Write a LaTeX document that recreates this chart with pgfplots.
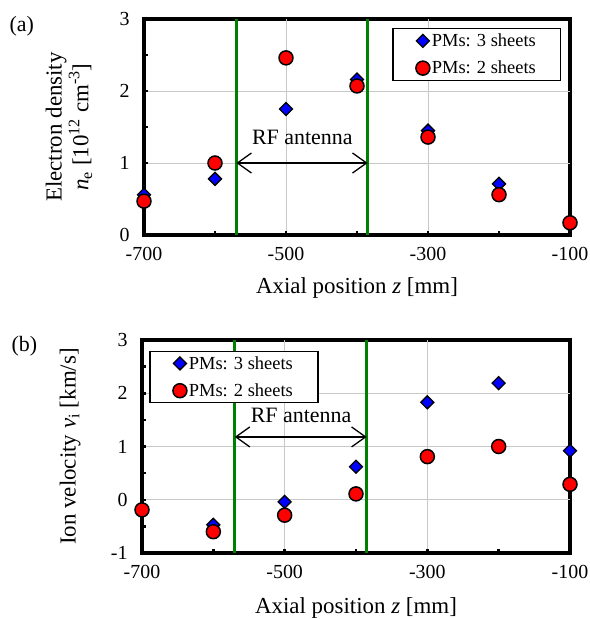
\documentclass[border=0pt]{standalone}
\usepackage{fontspec}
\setmainfont{Liberation Serif}
\usepackage{pgfplots}
\pgfplotsset{compat=1.18}
\usetikzlibrary{arrows.meta}
\definecolor{pgreen}{RGB}{0,128,0}
\definecolor{pblue}{RGB}{0,0,255}
\definecolor{pred}{RGB}{255,0,0}
\definecolor{pgrid}{RGB}{200,200,200}
\pgfplotsset{
  panel/.style={
    scale only axis, clip=false,
    xmin=-700, xmax=-100,
    xtick={-700,-500,-300,-100},
    xticklabels={-700,-500,-300,-100},
    minor xtick={-600,-400,-200},
    extra x ticks={-500,-300},
    extra x tick labels={},
    extra x tick style={grid=major, major tick length=4bp},
    tick align=inside,
    xtick pos=bottom, ytick pos=left,
    major tick length=4bp,
    minor tick length=4bp,
    every tick/.style={line width=2.5bp, black},
    minor tick style={line width=2.5bp, black},
    major grid style={pgrid, line width=1bp},
    axis background/.style={draw=black, line width=3.2bp},
    axis line style={line width=3bp},
    tick label style={font=\fontsize{20}{24}\selectfont},
    xticklabel style={yshift=-9bp},
    yticklabel style={xshift=-11bp},
    label style={font=\fontsize{23}{27}\selectfont},
    legend style={draw=black, line width=1.3bp, font=\fontsize{18.5}{22}\selectfont,
      inner xsep=23bp, inner ysep=3bp, row sep=9bp, column sep=0bp, cells={anchor=west},
      nodes={inner xsep=2bp}},
  },
  limg/.style={legend image code/.code={\draw plot coordinates {(0bp,0bp)};}},
  m3/.style={only marks, mark=square*, mark size=4.6bp,
    mark options={rotate=45, fill=pblue, draw=black, line width=1.3bp}, limg},
  m2/.style={only marks, mark=*, mark size=7bp,
    mark options={fill=pred, draw=black, line width=1.5bp}, limg},
  gl/.style={pgreen, line width=2.6bp, forget plot},
  ar/.style={black, line width=1.3bp, forget plot,
    {Straight Barb[length=14bp,width=20bp]}-{Straight Barb[length=14bp,width=20bp]}},
}
\begin{document}
\begin{tikzpicture}
\path[use as bounding box] (0,0) rectangle (590bp,-619bp);
\node[anchor=west, font=\fontsize{22}{26}\selectfont] at (6bp,-26bp) {(a)};
\node[anchor=west, font=\fontsize{22}{26}\selectfont] at (8bp,-346bp) {(b)};
\begin{axis}[panel,
  at={(144bp,-19bp)}, anchor=north west,
  width=426bp, height=216bp,
  ymin=0, ymax=3,
  ytick={0,1,2,3}, yticklabels={0,1,2,3},
  minor ytick={0.5,1.5,2.5},
  extra y ticks={1,2}, extra y tick labels={},
  extra y tick style={grid=major, major tick length=4bp},
  xlabel={Axial position \textit{z} [mm]},
  xlabel style={at={(axis description cs:0.5,-0.245)}, anchor=center},
  ylabel={Electron density\\\textit{n}\textsubscript{e} [10\textsuperscript{12} cm\textsuperscript{-3}]},
  ylabel style={at={(axis description cs:-0.176,0.5)}, anchor=center, align=center},
  legend style={at={(0.98,0.958)}, anchor=north east},
]
\addplot[gl] coordinates {(-570,0) (-570,3)};
\addplot[gl] coordinates {(-385,0) (-385,3)};
\addplot[ar] coordinates {(-570,1) (-385,1)};
\node[font=\fontsize{22}{26}\selectfont] at (axis cs:-477,1.36) {RF antenna};
\addplot[m3] coordinates {(-700,0.56) (-600,0.78) (-500,1.75) (-400,2.16) (-300,1.45) (-200,0.71) (-100,0.14)};
\addplot[m2] coordinates {(-700,0.47) (-600,1.0) (-500,2.46) (-400,2.07) (-300,1.36) (-200,0.56) (-100,0.17)};
\legend{PMs: 3 sheets, PMs: 2 sheets}
\end{axis}
\begin{axis}[panel,
  at={(142bp,-340bp)}, anchor=north west,
  width=428bp, height=213bp,
  ymin=-1, ymax=3,
  ytick={-1,0,1,2,3}, yticklabels={-1,0,1,2,3},
  minor ytick={-0.5,0.5,1.5,2.5},
  extra y ticks={0,1,2}, extra y tick labels={},
  extra y tick style={grid=major, major tick length=4bp},
  xlabel={Axial position \textit{z} [mm]},
  xlabel style={at={(axis description cs:0.5,-0.258)}, anchor=center},
  ylabel={Ion velocity \textit{v}\textsubscript{i} [km/s]},
  ylabel style={at={(axis description cs:-0.168,0.5)}, anchor=center},
  legend style={at={(0.017,0.95)}, anchor=north west},
]
\addplot[gl] coordinates {(-570,-1) (-570,3)};
\addplot[gl] coordinates {(-385,-1) (-385,3)};
\addplot[ar] coordinates {(-570,1.18) (-385,1.18)};
\node[font=\fontsize{22}{26}\selectfont] at (axis cs:-477,1.59) {RF antenna};
\addplot[m3] coordinates {(-700,-0.19) (-600,-0.47) (-500,-0.04) (-400,0.62) (-300,1.83) (-200,2.19) (-100,0.92)};
\addplot[m2] coordinates {(-700,-0.19) (-600,-0.60) (-500,-0.29) (-400,0.11) (-300,0.81) (-200,1.0) (-100,0.29)};
\legend{PMs: 3 sheets, PMs: 2 sheets}
\end{axis}
\end{tikzpicture}
\end{document}
